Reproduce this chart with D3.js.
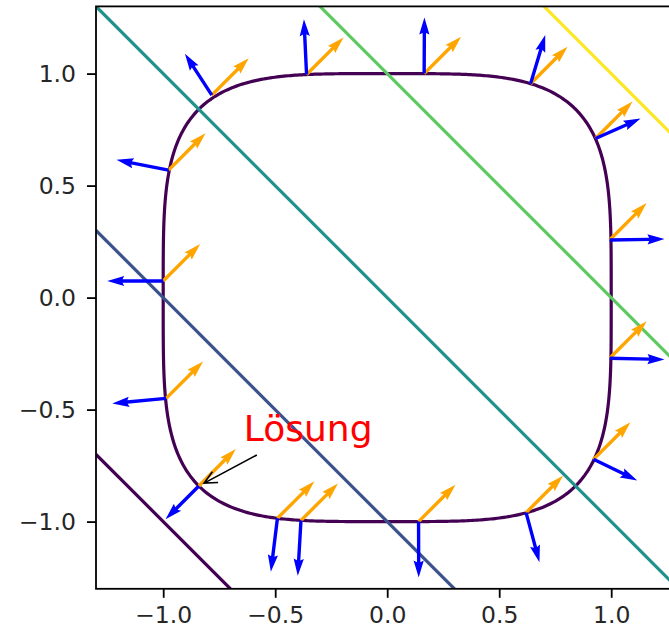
<!DOCTYPE html>
<html>
<head>
<meta charset="utf-8">
<script src="https://cdn.jsdelivr.net/npm/d3@7"></script>
<style>
  body { margin: 0; background: #fff; }
  text { font-family: "DejaVu Sans", sans-serif; }
</style>
</head>
<body>
<div id="chart"></div>
<script>
// contour levels of f(x, y) = x + y and their viridis colours
const levels = [-2, -1, 0, 1, 2];
const levelColors = ["#440154", "#3b528b", "#21918c", "#5ec962", "#fde725"];
const tickValues = [-1.0, -0.5, 0.0, 0.5, 1.0];

// points on the constraint curve x^4 + y^4 = 1 where the gradients are drawn
const pointsX = [-0.976, -0.783, -0.36, 0.165, 0.64, 0.93, 0.993, 0.993, 0.921, 0.62, 0.14, -0.385, -0.49, -0.8409, -0.987, -1.0];
const pointsY = [0.569, 0.904, 0.996, 1.0, 0.955, 0.71, 0.257, -0.271, -0.722, -0.96, -1.0, -0.995, -0.985, -0.8409, -0.45, 0.074];

const gradF = [1, 1];
const solution = [-0.8409, -0.8409];
const labelPos = [-0.64, -0.64];
const labelText = "Lösung";

const width = 669, height = 638;
const x = d3.scaleLinear().domain([-1.3, 1.3]).range([96, 678.4]);
const y = d3.scaleLinear().domain([-1.3, 1.3]).range([588.8, 6.4]);

const svg = d3.select("#chart").append("svg")
  .attr("width", width)
  .attr("height", height);

svg.append("clipPath").attr("id", "clip")
  .append("rect")
  .attr("x", x(-1.3)).attr("y", y(1.3))
  .attr("width", x(1.3) - x(-1.3)).attr("height", y(-1.3) - y(1.3));

const plot = svg.append("g").attr("clip-path", "url(#clip)");

// constraint curve g(x, y) = x^4 + y^4 = 1
const thetas = d3.range(0, 2 * Math.PI, Math.PI / 360);
const curvePts = thetas.map(t => {
  const c = Math.cos(t), s = Math.sin(t);
  const r = Math.pow(Math.pow(c, 4) + Math.pow(s, 4), -0.25);
  return [r * c, r * s];
});
plot.append("path")
  .attr("d", d3.line().x(d => x(d[0])).y(d => y(d[1])).curve(d3.curveLinearClosed)(curvePts))
  .attr("fill", "none")
  .attr("stroke", "#440154")
  .attr("stroke-width", 3.2);

// contour lines x + y = c
plot.selectAll(".lvl")
  .data(levels)
  .enter()
  .append("line")
  .attr("class", "lvl")
  .attr("x1", x(-1.3)).attr("y1", c => y(c + 1.3))
  .attr("x2", x(1.3)).attr("y2", c => y(c - 1.3))
  .attr("stroke", (c, i) => levelColors[i])
  .attr("stroke-width", 3.2);

// quiver style arrow polygon between two pixel points
function arrowPath(x0, y0, x1, y1, w) {
  const dx = x1 - x0, dy = y1 - y0;
  const L = Math.hypot(dx, dy);
  const ux = dx / L, uy = dy / L, nx = -uy, ny = ux;
  const pts = [
    [0, -w / 2], [L - 4.5 * w, -w / 2], [L - 5 * w, -1.5 * w],
    [L, 0], [L - 5 * w, 1.5 * w], [L - 4.5 * w, w / 2], [0, w / 2]
  ].map(p => [x0 + ux * p[0] + nx * p[1], y0 + uy * p[0] + ny * p[1]]);
  return "M" + pts.map(p => p.join(",")).join("L") + "Z";
}

const pts = pointsX.map((px, i) => [px, pointsY[i]]);
const orangeScale = 0.165;
const blueScale = 1 / 16;

plot.selectAll(".gf")
  .data(pts)
  .enter()
  .append("path")
  .attr("class", "gf")
  .attr("d", d => arrowPath(x(d[0]), y(d[1]),
    x(d[0] + gradF[0] * orangeScale), y(d[1] + gradF[1] * orangeScale), 3.4))
  .attr("fill", "orange");

plot.selectAll(".gg")
  .data(pts)
  .enter()
  .append("path")
  .attr("class", "gg")
  .attr("d", d => arrowPath(x(d[0]), y(d[1]),
    x(d[0] + 4 * Math.pow(d[0], 3) * blueScale), y(d[1] + 4 * Math.pow(d[1], 3) * blueScale), 3.4))
  .attr("fill", "blue");

// annotation
const lx = x(labelPos[0]), ly = y(labelPos[1]);
svg.append("text")
  .attr("x", lx).attr("y", ly)
  .attr("font-size", 36)
  .attr("fill", "red")
  .text(labelText);

const tx = lx + 13, ty = ly + 14;
const sx = x(solution[0]), sy = y(solution[1]);
const ang = Math.atan2(sy - ty, sx - tx);
const hx = sx - 6 * Math.cos(ang), hy = sy - 6 * Math.sin(ang);
const hl = 14, ha = 0.45;
svg.append("path")
  .attr("d", `M${tx},${ty}L${hx},${hy}` +
    `M${hx - hl * Math.cos(ang - ha)},${hy - hl * Math.sin(ang - ha)}L${hx},${hy}` +
    `L${hx - hl * Math.cos(ang + ha)},${hy - hl * Math.sin(ang + ha)}`)
  .attr("fill", "none")
  .attr("stroke", "#000")
  .attr("stroke-width", 1.6);

// axes
const fmt = v => d3.format(".1f")(v).replace("-", "\u2212");
const xAxis = d3.axisBottom(x).tickValues(tickValues).tickFormat(fmt).tickSize(9).tickPadding(9);
const yAxis = d3.axisLeft(y).tickValues(tickValues).tickFormat(fmt).tickSize(9).tickPadding(11);

const gx = svg.append("g").attr("transform", `translate(0,${y(-1.3)})`).call(xAxis);
const gy = svg.append("g").attr("transform", `translate(${x(-1.3)},0)`).call(yAxis);
[gx, gy].forEach(g => {
  g.select(".domain").remove();
  g.selectAll("line").attr("stroke", "#000").attr("stroke-width", 1.8);
  g.selectAll("text").attr("font-size", 23.5).attr("fill", "#262626")
    .attr("font-family", "DejaVu Sans");
});

svg.append("rect")
  .attr("x", x(-1.3)).attr("y", y(1.3))
  .attr("width", x(1.3) - x(-1.3)).attr("height", y(-1.3) - y(1.3))
  .attr("fill", "none")
  .attr("stroke", "#000")
  .attr("stroke-width", 1.8);
</script>
</body>
</html>
